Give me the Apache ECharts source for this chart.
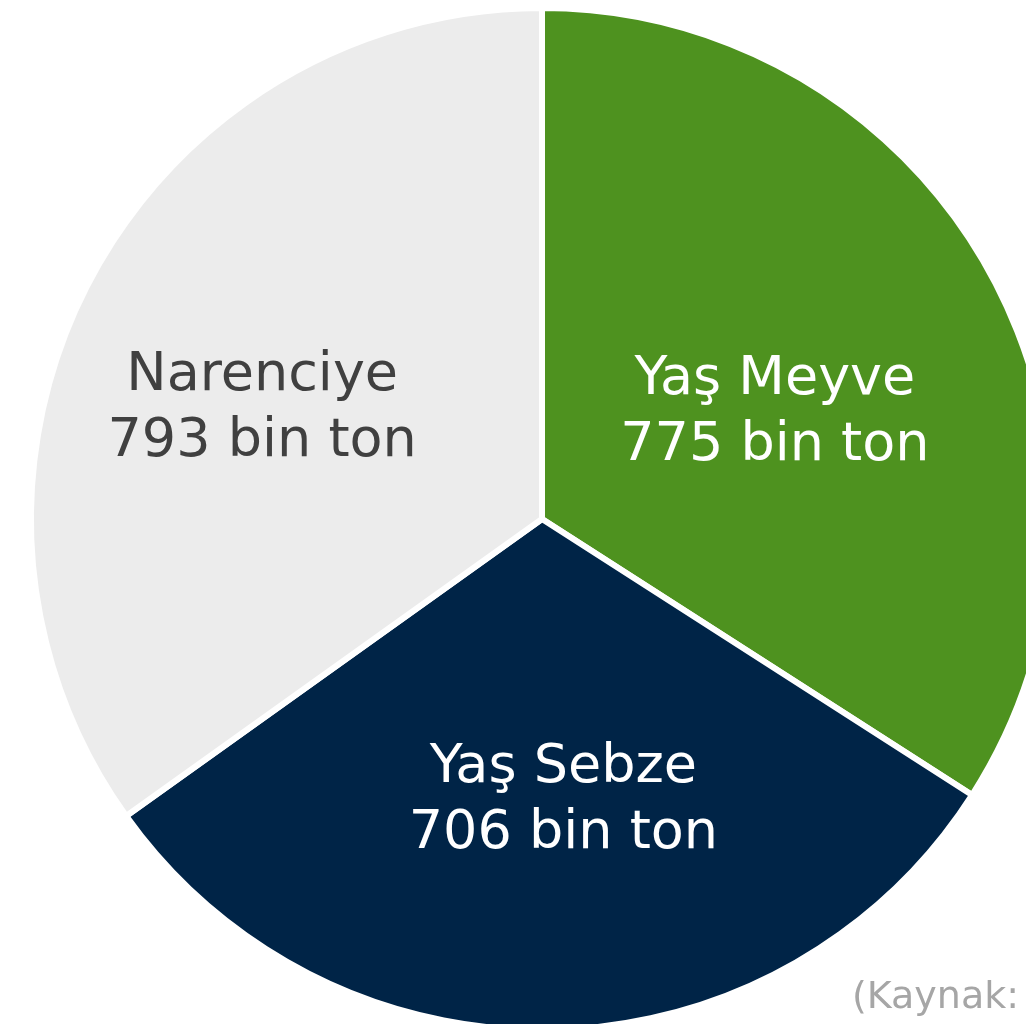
<!DOCTYPE html>
<html>
<head>
<meta charset="utf-8">
<script src="https://cdn.jsdelivr.net/npm/echarts@6/dist/echarts.min.js"></script>
<style>
  html, body { margin: 0; padding: 0; background: #fff; }
  #chart { width: 1026px; height: 1024px; }
</style>
</head>
<body>
<div id="chart"></div>
<script>
  // dilimler (saat yönünde, tepeden başlayarak)
  var categories = ['Yaş Meyve', 'Yaş Sebze', 'Narenciye'];
  var values = [775, 706, 793];
  var unit = 'bin ton';
  var sourceText = '(Kaynak:';

  var colors = ['#4e921f', '#002447', '#ececec'];
  var labelColors = ['#ffffff', '#ffffff', '#404040'];
  // etiketleri ortadan biraz kaydır
  var labelShift = [[6, 18], [15, 24], [-50, 8]];

  var myChart = echarts.init(document.getElementById('chart'));

  var seriesData = categories.map(function (name, i) {
    return {
      name: name,
      value: values[i],
      itemStyle: { color: colors[i] },
      label: { color: labelColors[i], offset: labelShift[i] }
    };
  });

  var option = {
    animation: false,
    backgroundColor: '#ffffff',
    series: [
      {
        type: 'pie',
        center: [542, 519],
        radius: [0, 511],
        startAngle: 90,
        clockwise: true,
        silent: true,
        itemStyle: { borderColor: '#ffffff', borderWidth: 6 },
        label: {
          show: true,
          position: 'inside',
          fontFamily: 'DejaVu Sans',
          fontSize: 54,
          lineHeight: 66,
          formatter: function (p) {
            return p.name + '\n' + p.value + ' ' + unit;
          }
        },
        labelLine: { show: false },
        data: seriesData
      }
    ],
    graphic: [
      {
        type: 'text',
        left: 852,
        top: 979,
        style: {
          text: sourceText,
          fill: '#a6a6a6',
          fontFamily: 'DejaVu Sans',
          fontSize: 38
        }
      }
    ]
  };
  myChart.setOption(option);
</script>
</body>
</html>
